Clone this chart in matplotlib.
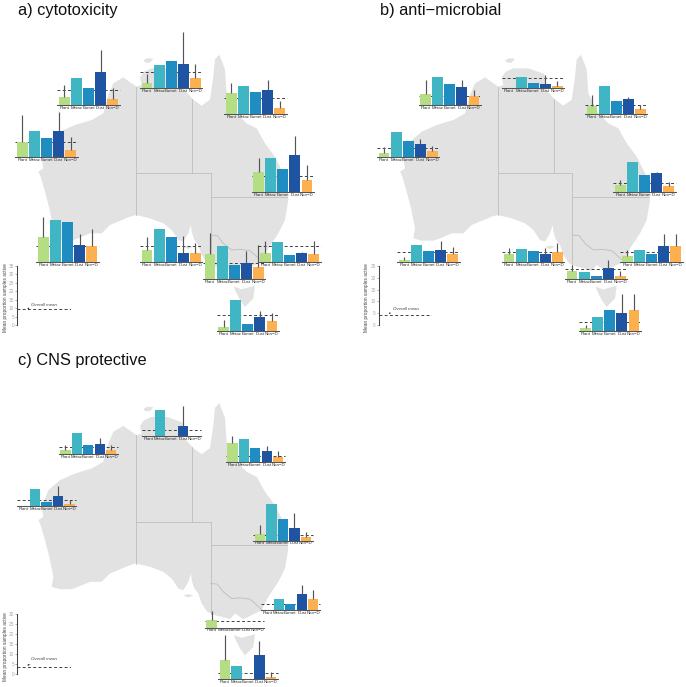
"""cytotoxicity, anti-microbial and CNS activity by region, on a map of Australia"""
import numpy as np
import matplotlib
matplotlib.use("Agg")
import matplotlib.pyplot as plt
from matplotlib.patches import Polygon

plt.rcParams['font.family'] = ['Liberation Sans', 'DejaVu Sans']

W, H = 686, 687
nan = np.nan

groups = ['Plant', 'Metaz', 'Eumet', 'Dust', 'Non\u2212D']
colors = ['#B5DE84', '#40B5C4', '#1F8DC1', '#1F54A3', '#FDB04F']

# mean % active, one row per region
a_vals = [[4.9, 16.0, 10.5, 19.8, 4.0], [3.4, 14.0, 16.0, 14.4, 6.1],
          [12.6, 16.8, 13.0, 14.4, 3.8], [9.1, 15.8, 11.3, 15.6, 4.3],
          [11.7, 20.2, 13.6, 21.7, 7.1], [14.6, 24.9, 23.7, 9.7, 9.3],
          [6.7, 19.2, 14.8, 4.9, 5.1], [14.8, 19.8, 8.7, 9.7, 7.5],
          [5.3, 11.4, 4.0, 5.3, 4.7], [2.4, 18.2, 4.0, 8.5, 5.9]]
a_errs = [[12.0, nan, nan, 33.0, 10.0], [8.7, nan, nan, 33.2, 14.6],
          [18.8, nan, nan, 20.2, 7.9], [25.1, nan, nan, 27.1, 11.9],
          [20.2, nan, nan, 33.2, 16.0], [26.5, nan, nan, 16.6, 19.4],
          [14.6, nan, nan, 15.0, 11.1], [27.5, nan, nan, 16.8, 20.4],
          [12.1, nan, nan, 5.5, 12.5], [6.3, nan, nan, 11.7, 10.9]]
a_means = [9.3, 9.5, 9.5, 9.3, 9.3, 9.3, 9.3, 9.5, 9.3, 9.3]

b_vals = [[4.9, 11.9, 9.0, 7.8, 3.8], [0, 4.9, 2.1, 2.0, 1.0],
          [3.7, 11.9, 5.6, 6.4, 2.3], [2.0, 10.7, 6.9, 5.5, 2.8],
          [3.0, 12.7, 7.1, 7.9, 2.4], [0.8, 7.2, 4.7, 5.2, 3.7],
          [3.7, 5.5, 4.9, 3.4, 4.2], [3.5, 3.2, 1.4, 4.7, 1.3],
          [2.7, 5.2, 3.4, 6.9, 6.9], [1.3, 6.1, 8.8, 7.8, 8.9]]
b_errs = [[10.7, nan, nan, 10.7, 6.5], [nan, nan, nan, 5.6, 3.1],
          [8.2, nan, nan, 7.5, 4.0], [4.5, nan, nan, 7.6, 4.9],
          [5.1, nan, nan, 8.5, 4.2], [2.3, nan, nan, 9.2, 6.7],
          [5.9, nan, nan, 5.9, 8.2], [5.9, nan, nan, 8.2, 3.5],
          [5.1, nan, nan, 11.9, 11.9], [2.5, nan, nan, 15.7, 15.5]]
b_means = [3.8, 4.2, 4.1, 3.8, 4.0, 4.2, 4.2, 4.2, 4.2, 4.0]

c_vals = [[2.2, 10.7, 4.5, 5.0, 2.2], [0, 13.2, 0, 5.0, 0],
          [9.4, 11.7, 6.9, 5.4, 2.8], [0, 8.7, 2.0, 5.2, 1.0],
          [3.5, 18.3, 10.7, 6.2, 2.0], [0, 5.5, 3.2, 8.2, 5.5],
          [3.7, 0, 0, 0, 0], [9.5, 6.4, 0, 11.9, 1.2]]
c_errs = [[4.7, nan, nan, 8.2, 4.5], [nan, nan, nan, 15.4, nan],
          [13.4, nan, nan, 8.2, 5.4], [nan, nan, nan, 10.1, 3.0],
          [8.0, nan, nan, 13.7, 4.2], [nan, nan, nan, 12.7, 10.0],
          [8.4, nan, nan, nan, nan], [22.3, nan, nan, 19.3, 3.5]]
c_means = [3.4, 3.0, 3.0, 3.2, 3.0, 3.0, 3.2, 3.0]

# where each small chart sits: left edge and baseline, pixels inside the panel, x3
a_pos = [(172, 316), (420, 265), (673, 343), (46, 472), (755, 576),
         (109, 785), (420, 785), (609, 838), (775, 785), (650, 993)]
b_pos = [(221, 316), (471, 265), (720, 343), (96, 472), (805, 576),
         (157, 787), (471, 787), (660, 838), (826, 787), (701, 993)]
c_pos = [(176, 328), (425, 274), (677, 352), (51, 484), (760, 587),
         (782, 796), (615, 848), (655, 1003)]

# map outline, traced, same x3 pixels as panel a
coast = [(658, 164), (668, 190), (675, 208), (680, 280), (710, 340), (740, 370),
         (770, 385), (795, 430), (825, 470), (855, 530), (865, 600), (855, 660),
         (835, 700), (805, 745), (785, 785), (755, 800), (730, 812), (705, 795),
         (690, 812), (670, 806), (645, 800), (622, 790), (605, 765), (595, 735),
         (582, 718), (575, 695), (573, 675), (565, 700), (550, 725), (535, 720),
         (515, 690), (490, 670), (450, 655), (408, 645), (390, 650), (330, 675),
         (305, 700), (270, 700), (235, 715), (215, 722), (180, 722), (155, 715),
         (160, 685), (148, 625), (135, 575), (122, 530), (115, 515), (130, 505),
         (125, 475), (145, 425), (180, 395), (225, 375), (275, 360), (310, 340),
         (325, 285), (340, 250), (370, 232), (395, 250), (410, 260), (425, 255),
         (420, 232), (432, 215), (455, 205), (500, 205), (548, 222), (552, 268),
         (580, 299), (605, 317), (630, 299), (640, 230), (645, 178)]
tasmania = [(702, 860), (725, 868), (765, 857), (760, 895), (735, 921),
            (720, 900), (705, 870)]
kangaroo = [(550, 741), (565, 737), (580, 740), (565, 747)]
tiwi = [(430, 182), (440, 175), (460, 176), (450, 188), (437, 188)]
borders = [[(409, 260), (409, 645)], [(576, 296), (576, 520)],
           [(409, 520), (632, 520), (632, 795)], [(632, 590), (862, 590)],
           [(632, 705), (652, 707), (670, 730), (695, 750), (720, 748),
            (750, 752), (765, 765), (785, 783)]]

fig = plt.figure(figsize=(W / 100, H / 100), dpi=100)
bg = fig.add_axes([0, 0, 1, 1])
bg.set_xlim(0, W)
bg.set_ylim(H, 0)
bg.axis('off')


def draw_map(ox, oy):
    for shape in [coast, tasmania, kangaroo, tiwi]:
        pts = [(ox + x / 3, oy + y / 3) for x, y in shape]
        bg.add_patch(Polygon(pts, closed=True, fc='#E2E2E2', ec='none', zorder=1))
    for line in borders:
        xs = [ox + p[0] / 3 for p in line]
        ys = [oy + p[1] / 3 for p in line]
        bg.plot(xs, ys, color='#BDBDBD', lw=0.6, zorder=2)


def small_chart(ox, oy, pos, vals, errs, mean, top, scale, width):
    left = ox + pos[0] / 3
    base = oy + pos[1] / 3
    high = top * scale
    ax = fig.add_axes([left / W, 1 - base / H, width / W, high / H])
    ax.patch.set_alpha(0)
    ax.axhline(mean, color='#333333', lw=0.65, dashes=(3.2, 2.6), zorder=1, clip_on=False)
    x = np.arange(5)
    ax.bar(x, vals, width=0.9, color=colors, zorder=2)
    for i in x:
        if not np.isnan(errs[i]):
            ax.vlines(i, vals[i], errs[i], color='#555555', lw=0.85, zorder=3, clip_on=False)
    ax.set_xlim(-0.58, 4.58)
    ax.set_ylim(0, top)
    ax.set_yticks([])
    ax.set_xticks(x)
    ax.set_xticklabels(groups, fontsize=3.2, color='#333333')
    ax.tick_params(axis='x', length=0, pad=0.6)
    for s in ['top', 'left', 'right']:
        ax.spines[s].set_visible(False)
    ax.spines['bottom'].set_color('#555555')
    ax.spines['bottom'].set_linewidth(0.75)


def scale_key(ox, oy, xz, ytop, ybot, top, mean, dash_end, note, arrow):
    left = ox + xz / 3
    y0 = oy + ybot / 3
    wid = (dash_end - xz) / 3
    high = (ybot - ytop) / 3
    ax = fig.add_axes([left / W, 1 - y0 / H, wid / W, high / H])
    ax.patch.set_alpha(0)
    ax.set_xlim(0, wid)
    ax.set_ylim(0, top)
    ax.set_xticks([])
    ax.set_yticks(np.arange(0, top + 1, 5))
    ax.tick_params(axis='y', length=1.2, width=0.4, pad=1, labelsize=3.4, color='#777777', labelcolor='#AAAAAA')
    for s in ['top', 'right', 'bottom']:
        ax.spines[s].set_visible(False)
    ax.spines['left'].set_color('#444444')
    ax.spines['left'].set_linewidth(0.75)
    ax.plot([0, wid], [mean, mean], color='#333333', lw=0.65, dashes=(3.2, 2.6))
    ax.annotate('Overall mean', xy=(arrow[0], mean + arrow[1]), xytext=(note[0], mean + note[1]),
                fontsize=3.2, style='italic', color='#444444', va='center',
                arrowprops=dict(arrowstyle='-|>', lw=0.3, color='#222222', mutation_scale=2,
                                shrinkA=0, shrinkB=0))
    ax.text(-12.0, 0.46 * top, 'Mean proportion samples active', rotation=90, fontsize=3.4,
            color='#444444', ha='center', va='center')


def panel(ox, oy, title, tx, ty, pos, vals, errs, means, top, scale, width):
    draw_map(ox, oy)
    for p, v, e, m in zip(pos, vals, errs, means):
        small_chart(ox, oy, p, v, e, m, top, scale, width)
    fig.text(tx / W, 1 - ty / H, title, fontsize=11.8, color='#111111', ha='left', va='baseline')


panel(0, 0, 'a) cytotoxicity', 18, 15, a_pos, a_vals, a_errs, a_means, 35, 1.687, 62.3)
scale_key(0, 0, 52, 798, 975, 35, 9.7, 213, (14, 2.2), (10, 0))

panel(345 + 16.7, 0, 'b) anti\u2212microbial', 380, 15, [(x - 50, y) for x, y in b_pos],
      b_vals, b_errs, b_means, 25, 2.36, 62.3)
scale_key(345, 0, 101, 798, 975, 25, 4.1, 262, (14, 2.7), (10, 0.8))

panel(0, 348.5, 'c) CNS protective', 18, 365, [(x, y - 11) for x, y in c_pos],
      c_vals, c_errs, c_means, 30, 1.99, 59.3)
scale_key(0, 345, 52, 808, 987, 30, 3.4, 213, (14, 3.9), (10, 1))

fig.savefig('out.png', dpi=100)
